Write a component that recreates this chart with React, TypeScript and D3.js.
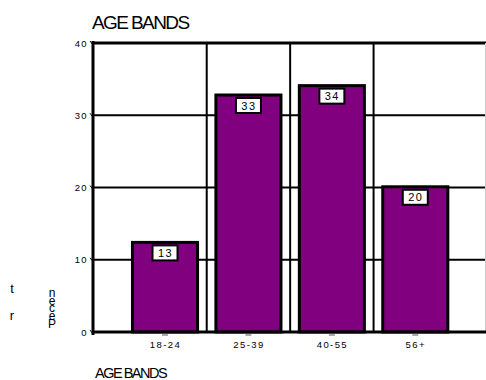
import React from "react";
import * as d3 from "d3";

const categories = ["18-24", "25-39", "40-55", "56+"];
const values = [12.4, 32.8, 34.1, 20.1];
const valueLabels = ["13", "33", "34", "20"];
const yTicks = [0, 10, 20, 30, 40];
const title = "AGE BANDS";
const xTitle = "AGE BANDS";
const yTitleParts = [
  { ch: "t", col: 0, row: 0 },
  { ch: "r", col: 0, row: 1 },
  { ch: "n", col: 1, row: 0 },
  { ch: "e", col: 1, row: 1 },
  { ch: "c", col: 1, row: 2 },
  { ch: "e", col: 1, row: 3 },
  { ch: "P", col: 1, row: 4 },
];

const W = 486;
const H = 380;
const font = "'Liberation Sans', Arial, sans-serif";

export default function App() {
  const plotLeft = 93;
  const plotRight = 486;
  const y = d3.scaleLinear().domain([0, 40]).range([332, 43]);
  const x = d3.scaleBand().domain(categories).range([123.3, 457]).paddingInner(0.22).paddingOuter(0.11);
  const step = x.step();
  const bandStart = 123.3;
  const boundaries = [1, 2, 3].map((i) => bandStart + step * i);
  const purple = "#800080";

  const yTitleX = [12, 52];
  const yTitleRowY = [[293, 320], [297, 305, 312, 320, 328]];

  return (
    <svg width={W} height={H} style={{ position: "absolute", left: 0, top: 0, display: "block", background: "#fff" }} fontFamily={font}>
      <rect x={0} y={0} width={W} height={H} fill="#fff" />
      {/* title */}
      <text x={92} y={29} fontSize={19} letterSpacing={-1.6} fill="#000">{title}</text>
      {/* horizontal gridlines */}
      {yTicks.filter((t) => t > 0 && t < 40).map((t) => (
        <line key={t} x1={plotLeft} x2={plotRight} y1={y(t)} y2={y(t)} stroke="#000" strokeWidth={2} />
      ))}
      {/* vertical gridlines */}
      {boundaries.map((b, i) => (
        <line key={i} x1={b} x2={b} y1={y(40)} y2={y(0)} stroke="#000" strokeWidth={2} />
      ))}
      {/* top border */}
      <line x1={plotLeft} x2={plotRight} y1={y(40)} y2={y(40)} stroke="#000" strokeWidth={3} />
      <line x1={485.5} x2={485.5} y1={y(40)} y2={y(0)} stroke="#ccc" strokeWidth={1} />
      {/* bars */}
      {categories.map((c, i) => (
        <rect key={c} x={x(c)!} y={y(values[i])} width={x.bandwidth()} height={y(0) - y(values[i])}
          fill={purple} stroke="#000" strokeWidth={3} />
      ))}
      {/* value labels */}
      {categories.map((c, i) => {
        const cx = x(c)! + x.bandwidth() / 2;
        const top = y(values[i]) + 3;
        return (
          <g key={c}>
            <rect x={cx - 12.5} y={top} width={25} height={15} fill="#fff" stroke="#000" strokeWidth={2} />
            <text x={cx + 0.5} y={top + 11.5} textAnchor="middle" fontSize={11} letterSpacing={1.5} fill="#000">{valueLabels[i]}</text>
          </g>
        );
      })}
      {/* axes */}
      <line x1={plotLeft} x2={plotLeft} y1={y(40) - 2} y2={y(0) + 3} stroke="#000" strokeWidth={3} />
      <line x1={plotLeft} x2={plotRight} y1={y(0)} y2={y(0)} stroke="#000" strokeWidth={3} />
      {/* y ticks */}
      {yTicks.map((t) => (
        <g key={t}>
          <line x1={plotLeft - 3} x2={plotLeft} y1={y(t) - 2} y2={y(t) + 2} stroke="#000" strokeWidth={1} />
          <text x={88} y={y(t) + 3.5} textAnchor="end" fontSize={9.5} letterSpacing={1.4} fill="#000">{t}</text>
        </g>
      ))}
      {/* x ticks */}
      {categories.map((c) => {
        const cx = x(c)! + x.bandwidth() / 2;
        return (
          <g key={c}>
            <line x1={cx - 3} x2={cx + 3} y1={y(0) + 3} y2={y(0) + 3} stroke="#555" strokeWidth={1} />
            <text x={cx + 0.5} y={y(0) + 16} textAnchor="middle" fontSize={9.5} letterSpacing={1.4} fill="#000">{c}</text>
          </g>
        );
      })}
      {/* x title */}
      <text x={95} y={378} fontSize={14.5} letterSpacing={-1.5} fill="#000">{xTitle}</text>
      {/* y title (garbled) */}
      {yTitleParts.map((p, i) => (
        <text key={i} x={yTitleX[p.col]} y={yTitleRowY[p.col][p.row]} fontSize={p.col === 0 ? 13 : 12} textAnchor="middle" fill="#000">{p.ch}</text>
      ))}
    </svg>
  );
}
